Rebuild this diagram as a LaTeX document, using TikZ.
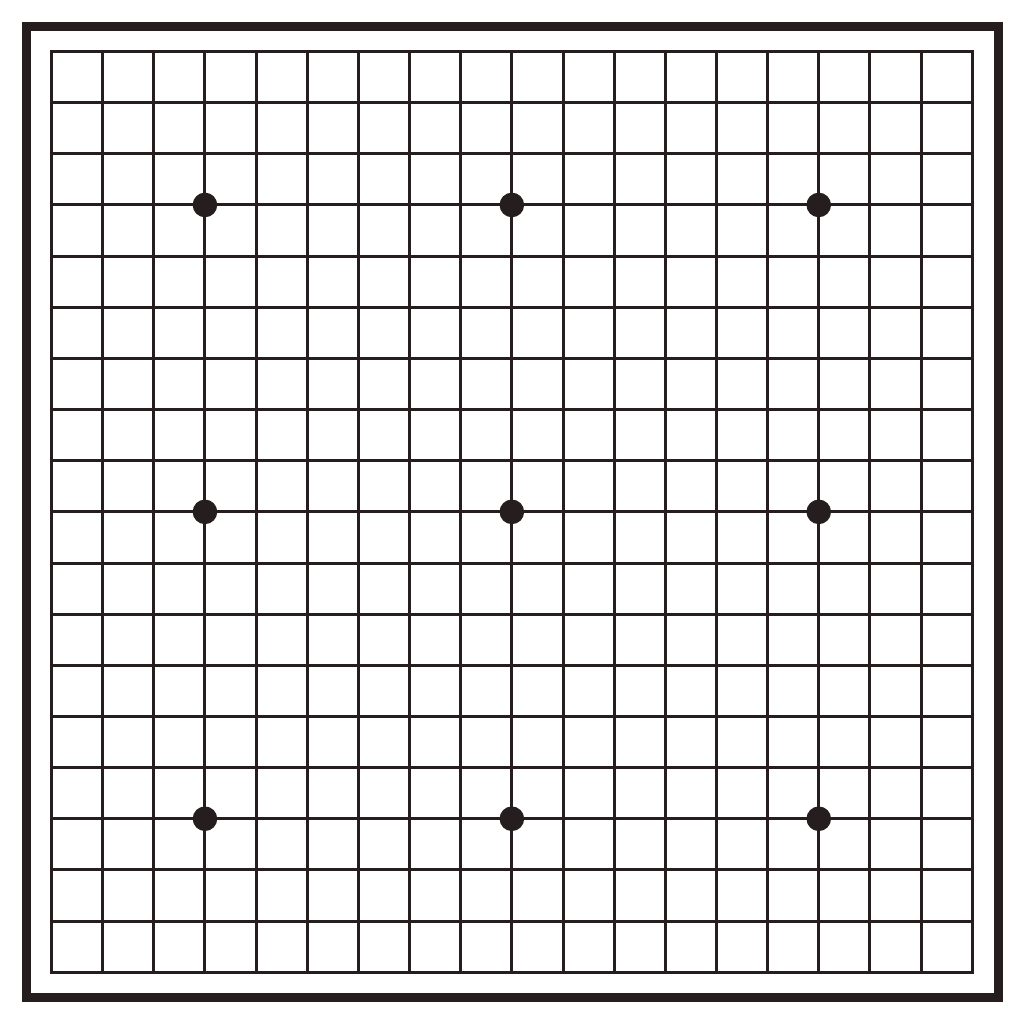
\documentclass[tikz,border=0pt]{standalone}
\usepackage{xcolor}
\usetikzlibrary{positioning}
\definecolor{BoardInk}{RGB}{38,30,30}
\tikzset{
  boardframe/.style={draw=BoardInk,line width=9pt},
  gridline/.style={draw=BoardInk,line width=3pt,line cap=rect},
  hoshi/.style={circle,fill=BoardInk,minimum size=24.6pt,inner sep=0pt},
}
\newcommand{\gsp}{51.15}
\begin{document}
\begin{tikzpicture}[x=1pt,y=-1pt]
  \useasboundingbox (0,0) rectangle (1024,1024);
  \draw[boardframe] (26.5,26.5) rectangle (998.5,997);
  % 19 x 19 lines
  \foreach \i in {0,...,18}{
    \draw[gridline] ({51.5+\gsp*\i},51.5) -- ({51.5+\gsp*\i},972.2);
    \draw[gridline] (51.5,{51.5+\gsp*\i}) -- (972.2,{51.5+\gsp*\i});
  }
  % star points
  \foreach \r in {3,9,15}
    \foreach \c in {3,9,15}
      \node[hoshi] (hoshi-\r-\c) at ({51.5+\gsp*\c},{51.5+\gsp*\r}) {};
\end{tikzpicture}
\end{document}
